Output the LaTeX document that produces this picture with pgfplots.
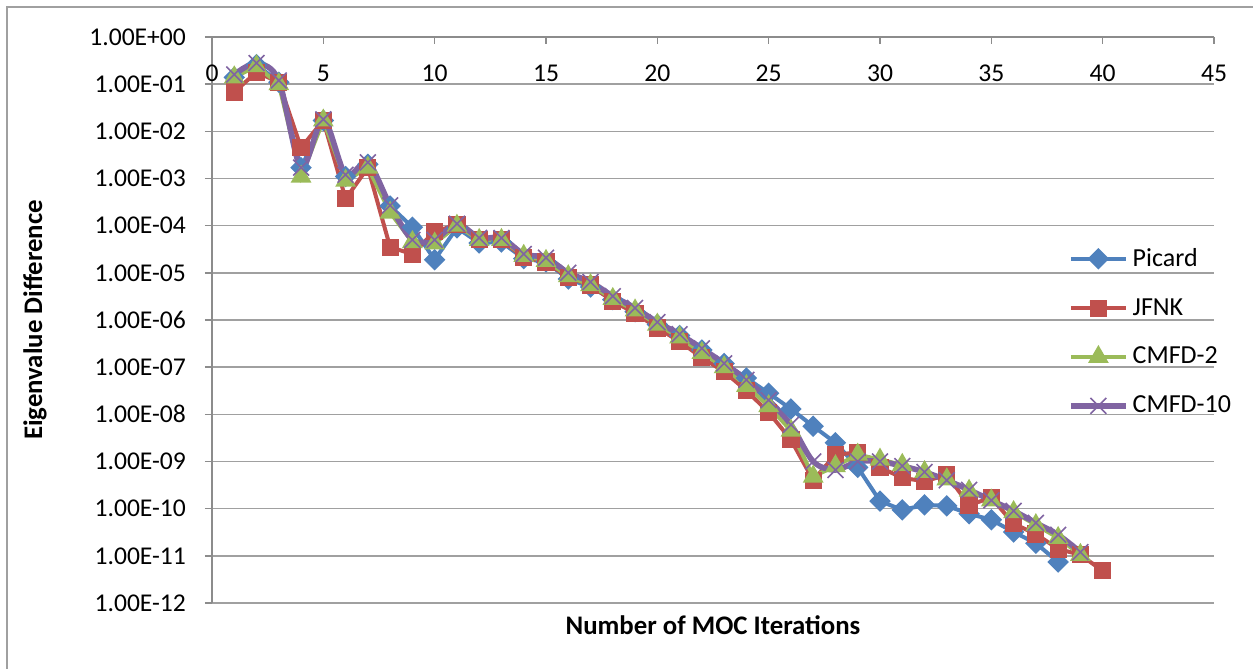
\documentclass[border=0pt]{standalone}
\usepackage{pgfplots}
\pgfplotsset{compat=1.18}
\usepackage{fontspec}
\setmainfont{Carlito}
\definecolor{cblue}{HTML}{4F81BD}
\definecolor{cred}{HTML}{C0504D}
\definecolor{cgreen}{HTML}{9BBB59}
\definecolor{cpurple}{HTML}{8064A2}
\definecolor{gridc}{RGB}{160,160,160}
\definecolor{axc}{RGB}{140,140,140}
\begin{document}
\begin{tikzpicture}
\useasboundingbox (0,0) rectangle (626.5pt,334.5pt);
\draw[color=gridc, line width=0.8pt] (3.5pt,-10pt) -- (3.5pt,331pt) -- (640pt,331pt);
\begin{axis}[
  at={(106pt,33pt)}, anchor=south west,
  scale only axis, width=501pt, height=283pt,
  ymode=log, ymin=1e-12, ymax=1,
  xmin=0, xmax=45,
  axis x line*=top, axis y line*=left,
  axis line style={-, draw=axc, line width=0.8pt},
  xtick={0,5,...,45}, xtick align=inside,
  ytick={1e-12,1e-11,1e-10,1e-9,1e-8,1e-7,1e-6,1e-5,1e-4,1e-3,1e-2,1e-1,1},
  yticklabels={1.00E-12,1.00E-11,1.00E-10,1.00E-09,1.00E-08,1.00E-07,1.00E-06,1.00E-05,1.00E-04,1.00E-03,1.00E-02,1.00E-01,1.00E+00},
  ytick align=outside,
  minor ytick={}, yminorticks=false,
  major tick length=3.5pt,
  tick style={draw=axc, line width=0.8pt},
  ymajorgrids, grid style={draw=gridc, line width=0.8pt},
  /pgf/number format/assume math mode=true,
  ticklabel style={font=\fontsize{12.8}{15}\selectfont},
  xticklabel style={anchor=center, yshift=-18pt},
  yticklabel style={anchor=east, xshift=-6pt},
  xlabel={\fontsize{13.4}{16}\selectfont\bfseries Number of MOC Iterations},
  ylabel={\fontsize{13.4}{16}\selectfont\bfseries Eigenvalue Difference},
  every axis x label/.style={at={(axis description cs:0.5,-0.039)}, anchor=center},
  every axis y label/.style={at={(axis description cs:-0.1766,0.5)}, rotate=90, anchor=center},
  clip=false,
  legend style={at={(axis description cs:0.852,0.638)}, anchor=north west, draw=none, fill=none,
    font=\fontsize{13}{15.6}\selectfont, row sep=10.5pt, inner sep=1pt},
  legend cell align=left,
  legend image code/.code={\draw[mark repeat=2,mark phase=2,#1] plot coordinates {(0pt,0pt) (13.75pt,0pt) (27.5pt,0pt)};},
]
\addplot[color=cblue, line width=2pt, mark=square*, mark size=2.8pt, mark options={rotate=45, solid}] coordinates {
(1,0.14) (2,0.26) (3,0.11) (4,1.7e-3) (5,1.7e-2) (6,1.1e-3) (7,2.0e-3) (8,2.6e-4) (9,9.3e-5) (10,1.9e-5)
(11,9e-5) (12,4.3e-5) (13,4.5e-5) (14,2.0e-5) (15,1.7e-5) (16,7.4e-6) (17,5e-6) (18,2.7e-6) (19,1.5e-6) (20,8e-7)
(21,4.7e-7) (22,2.3e-7) (23,1.2e-7) (24,5.9e-8) (25,2.8e-8) (26,1.3e-8) (27,5.6e-9) (28,2.5e-9) (29,7.5e-10) (30,1.45e-10)
(31,9.4e-11) (32,1.2e-10) (33,1.15e-10) (34,7.8e-11) (35,5.8e-11) (36,3.2e-11) (37,1.85e-11) (38,7.4e-12)
};
\addlegendentry{Picard}
\addplot[color=cred, line width=2pt, mark=square*, mark size=3.3pt, mark options={solid}] coordinates {
(1,6.8e-2) (2,0.18) (3,0.11) (4,4.5e-3) (5,1.7e-2) (6,3.7e-4) (7,1.7e-3) (8,3.5e-5) (9,2.5e-5) (10,7.5e-5)
(11,1.05e-4) (12,5e-5) (13,5e-5) (14,2.1e-5) (15,1.7e-5) (16,8e-6) (17,5.5e-6) (18,2.5e-6) (19,1.4e-6) (20,6.8e-7)
(21,3.5e-7) (22,1.6e-7) (23,8e-8) (24,3.2e-8) (25,1.1e-8) (26,2.9e-9) (27,4e-10) (28,1.4e-9) (29,1.55e-9) (30,7.5e-10)
(31,4.5e-10) (32,3.8e-10) (33,5.2e-10) (34,1.2e-10) (35,1.7e-10) (36,4.8e-11) (37,2.9e-11) (38,1.4e-11) (39,1.05e-11) (40,4.8e-12)
};
\addlegendentry{JFNK}
\addplot[color=cgreen, line width=2pt, mark=triangle*, mark size=4pt, mark options={solid}] coordinates {
(1,0.14) (2,0.24) (3,0.1) (4,1.1e-3) (5,1.7e-2) (6,9e-4) (7,1.7e-3) (8,1.9e-4) (9,4.5e-5) (10,4.2e-5)
(11,1e-4) (12,5e-5) (13,5e-5) (14,2.3e-5) (15,1.8e-5) (16,8.5e-6) (17,5.5e-6) (18,2.8e-6) (19,1.6e-6) (20,8e-7)
(21,4.3e-7) (22,2e-7) (23,1e-7) (24,4e-8) (25,1.5e-8) (26,4.5e-9) (27,4.8e-10) (28,8e-10) (29,1.4e-9) (30,1.1e-9)
(31,8.5e-10) (32,6e-10) (33,4.2e-10) (34,2.4e-10) (35,1.5e-10) (36,8.5e-11) (37,4.5e-11) (38,2.4e-11) (39,1.05e-11)
};
\addlegendentry{CMFD-2}
\addplot[color=cpurple, line width=2.8pt, smooth, mark=x, mark size=5.6pt, mark options={solid, line width=0.8pt}] coordinates {
(1,0.16) (2,0.28) (3,0.12) (4,1.7e-3) (5,1.8e-2) (6,1.2e-3) (7,2.2e-3) (8,2.7e-4) (9,5e-5) (10,5e-5)
(11,1.1e-4) (12,5.5e-5) (13,5.5e-5) (14,2.5e-5) (15,2.1e-5) (16,1e-5) (17,6.4e-6) (18,3.2e-6) (19,1.8e-6) (20,9e-7)
(21,5e-7) (22,2.5e-7) (23,1.2e-7) (24,5.4e-8) (25,2e-8) (26,6e-9) (27,1e-9) (28,6.6e-10) (29,1e-9) (30,1e-9)
(31,8e-10) (32,6e-10) (33,4e-10) (34,2.5e-10) (35,1.5e-10) (36,9e-11) (37,5e-11) (38,2.8e-11) (39,1.2e-11)
};
\addlegendentry{CMFD-10}
\end{axis}
\end{tikzpicture}
\end{document}
